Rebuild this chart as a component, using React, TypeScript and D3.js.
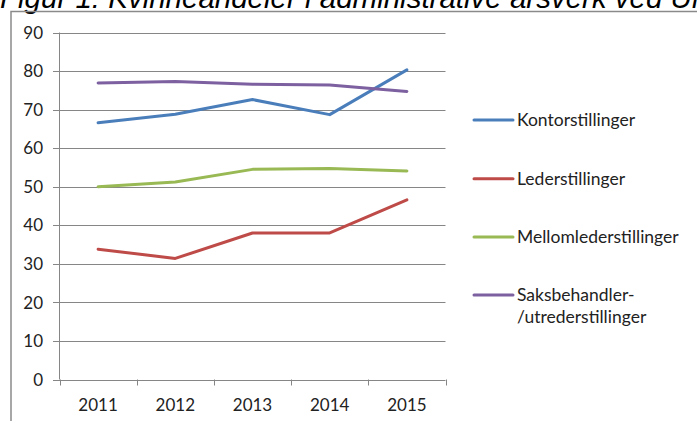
import React, { useEffect, useRef } from 'react';
import * as d3 from 'd3';

const years = ['2011', '2012', '2013', '2014', '2015'];
const yTicks = [0, 10, 20, 30, 40, 50, 60, 70, 80, 90];

const kontor = [66.6, 68.8, 72.6, 68.7, 80.3];
const leder = [33.8, 31.4, 38.0, 38.0, 46.6];
const mellom = [50.0, 51.2, 54.5, 54.7, 54.1];
const saksbeh = [76.9, 77.3, 76.6, 76.4, 74.7];

const seriesNames = ['Kontorstillinger', 'Lederstillinger', 'Mellomlederstillinger', 'Saksbehandler-\n/utrederstillinger'];
const seriesColors = ['#4A7EBB', '#BE4B48', '#98B954', '#7D60A0'];

const W = 697;
const H = 421;

const App = () => {
  const svgRef = useRef(null);

  useEffect(() => {
    const svg = d3.select(svgRef.current);
    svg.selectAll('*').remove();

    const font = 'Lato, Calibri, sans-serif';

    // title, cut off at the top like in the original
    svg.append('text')
      .attr('x', 0)
      .attr('y', 7.5)
      .attr('font-family', 'Liberation Sans, Arial, sans-serif')
      .attr('font-style', 'italic')
      .attr('font-size', 29.5)
      .attr('fill', '#000')
      .text('Figur 1: Kvinneandeler i administrative årsverk ved UiO');

    // chart frame
    svg.append('path')
      .attr('d', `M11,${H} V11.5 H${W}`)
      .attr('fill', 'none')
      .attr('stroke', '#8a8a8a')
      .attr('stroke-width', 1.5);

    const x = d3.scaleBand().domain(years).range([59.5, 445.5]);
    const y = d3.scaleLinear().domain([0, 90]).range([379.5, 32.5]);

    // gridlines
    svg.append('g')
      .selectAll('line')
      .data(yTicks)
      .join('line')
      .attr('x1', 53)
      .attr('x2', 445.5)
      .attr('y1', d => Math.round(y(d)) + 0.5)
      .attr('y2', d => Math.round(y(d)) + 0.5)
      .attr('stroke', '#868686')
      .attr('stroke-width', 1);

    // y axis
    svg.append('line')
      .attr('x1', 59.5).attr('x2', 59.5)
      .attr('y1', y(90)).attr('y2', y(0))
      .attr('stroke', '#868686');

    svg.append('g')
      .selectAll('text')
      .data(yTicks)
      .join('text')
      .attr('x', 43)
      .attr('y', d => y(d))
      .attr('dy', '0.36em')
      .attr('text-anchor', 'end')
      .attr('font-family', font)
      .attr('font-size', 17)
      .attr('fill', '#222')
      .text(d => d);

    // x ticks
    const xEdges = years.map(yr => x(yr)).concat([x.range()[1]]);
    svg.append('g')
      .selectAll('line')
      .data(xEdges)
      .join('line')
      .attr('x1', d => Math.round(d) + 0.5)
      .attr('x2', d => Math.round(d) + 0.5)
      .attr('y1', y(0))
      .attr('y2', y(0) + 6)
      .attr('stroke', '#868686');

    svg.append('g')
      .selectAll('text')
      .data(years)
      .join('text')
      .attr('x', d => x(d) + x.bandwidth() / 2)
      .attr('y', 411)
      .attr('text-anchor', 'middle')
      .attr('font-family', font)
      .attr('font-size', 17)
      .attr('fill', '#222')
      .text(d => d);

    // lines
    const allSeries = [kontor, leder, mellom, saksbeh];
    const line = d3.line()
      .x((d, i) => x(years[i]) + x.bandwidth() / 2)
      .y(d => y(d));

    svg.append('g')
      .selectAll('path')
      .data(allSeries)
      .join('path')
      .attr('d', d => line(d))
      .attr('fill', 'none')
      .attr('stroke', (d, i) => seriesColors[i])
      .attr('stroke-width', 3)
      .attr('stroke-linejoin', 'round')
      .attr('stroke-linecap', 'round');

    // legend
    const legendY = [120, 178.7, 237, 295];
    const lg = svg.append('g')
      .selectAll('g')
      .data(seriesNames)
      .join('g')
      .attr('transform', (d, i) => `translate(474,${legendY[i]})`);

    lg.append('line')
      .attr('x1', 0).attr('x2', 39)
      .attr('y1', 0).attr('y2', 0)
      .attr('stroke', (d, i) => seriesColors[i])
      .attr('stroke-width', 3)
      .attr('stroke-linecap', 'round');

    lg.append('text')
      .attr('font-family', font)
      .attr('font-size', 17.5)
      .attr('fill', '#222')
      .selectAll('tspan')
      .data(d => d.split('\n'))
      .join('tspan')
      .attr('x', 43)
      .attr('y', (d, i) => i * 21.5)
      .attr('dy', '0.36em')
      .text(d => d);
  }, []);

  return (
    <svg
      ref={svgRef}
      width={W}
      height={H}
      style={{ position: 'absolute', left: 0, top: 0, background: '#fff' }}
    />
  );
};

export default App;
